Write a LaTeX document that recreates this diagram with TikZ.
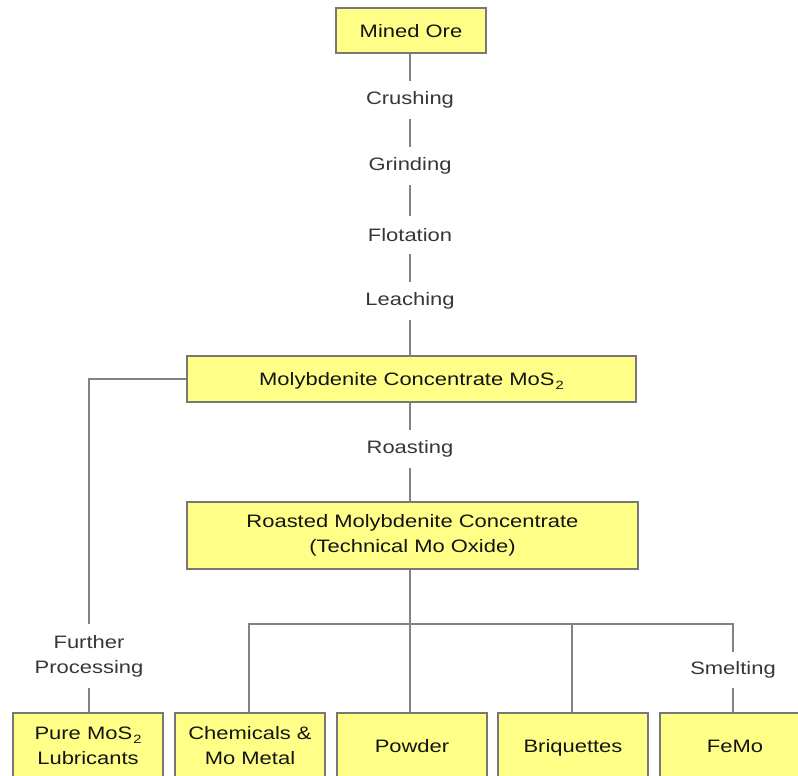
\documentclass[tikz,border=0pt]{standalone}
\usepackage{fontspec}
\setmainfont{Liberation Sans}[FakeStretch=1.22]
\usetikzlibrary{shadows}
\definecolor{boxfill}{RGB}{255,255,136}
\definecolor{boxline}{RGB}{120,120,120}
\definecolor{conn}{RGB}{130,130,130}
\definecolor{lbl}{RGB}{55,55,55}
\newcommand{\subtwo}{\kern0.8pt\raisebox{-0.45ex}{\fontsize{9pt}{9pt}\selectfont 2}}
\tikzset{
  boxnode/.style={draw=boxline, line width=1.3pt, fill=boxfill, inner sep=0pt,
    align=center, text=black!92, font=\fontsize{13.5pt}{18.75pt}\selectfont,
    drop shadow={shadow xshift=1.1pt, shadow yshift=-1.1pt, opacity=0.25}},
  oneline/.style={text height=12pt, text depth=2pt},
  lblnode/.style={inner sep=0pt, minimum height=28pt, align=center, text=lbl,
    font=\fontsize{13.5pt}{18.75pt}\selectfont},
  connline/.style={draw=conn, line width=1.5pt},
}
\begin{document}
\begin{tikzpicture}[x=0.75pt, y=-0.75pt]
\useasboundingbox (0,0) rectangle (798,775);
\clip (0,0) rectangle (798,775);
% boxes
\node[boxnode, oneline, minimum width=112.5pt, minimum height=33.75pt] (ore) at (411,30.5) {Mined Ore};
\node[boxnode, oneline, minimum width=336.75pt, minimum height=34.5pt] (moly) at (411.5,379) {Molybdenite Concentrate MoS\subtwo};
\node[boxnode, minimum width=338.25pt, minimum height=50.25pt] (roast) at (412.5,535.5) {Roasted Molybdenite Concentrate\\(Technical Mo Oxide)};
\node[boxnode, minimum width=112.5pt, minimum height=49.5pt] (pure) at (88,746) {Pure MoS\subtwo\\Lubricants};
\node[boxnode, minimum width=112.5pt, minimum height=49.5pt] (chem) at (250,746) {Chemicals \&\\Mo Metal};
\node[boxnode, oneline, minimum width=112.5pt, minimum height=49.5pt] (powder) at (412,746) {Powder};
\node[boxnode, oneline, minimum width=112.5pt, minimum height=49.5pt] (briq) at (573,746) {Briquettes};
\node[boxnode, oneline, minimum width=112.5pt, minimum height=49.5pt] (femo) at (735,746) {FeMo};
% labels
\node[lblnode] (crush) at (410,100) {Crushing};
\node[lblnode] (grind) at (410,166) {Grinding};
\node[lblnode] (flot) at (410,235) {Flotation};
\node[lblnode] (leach) at (410,301) {Leaching};
\node[lblnode] (roasting) at (410,449) {Roasting};
\node[lblnode, minimum height=48pt] (further) at (89,656) {Further\\Processing};
\node[lblnode, minimum height=26pt] (smelt) at (733,670) {Smelting};
\coordinate (busL) at (249,624);
\coordinate (busR) at (733,624);
% connectors
\draw[connline] (ore.south -| crush) -- (crush);
\draw[connline] (crush) -- (grind);
\draw[connline] (grind) -- (flot);
\draw[connline] (flot) -- (leach);
\draw[connline] (leach) -- (moly.north -| leach);
\draw[connline] (moly.south -| roasting) -- (roasting);
\draw[connline] (roasting) -- (roast.north -| roasting);
\draw[connline] (moly.west) -| (further.north);
\draw[connline] (further.south) -- (pure.north -| further);
\draw[connline] (roast.south -| roasting) -- (powder.north -| roasting);
\draw[connline] (chem.north -| busL) -- (busL) -- (busR) -- (smelt.north);
\draw[connline] (smelt.south) -- (femo.north -| smelt);
\draw[connline] (briq.north -| 572,0) -- (busR -| 572,0);
\end{tikzpicture}
\end{document}
